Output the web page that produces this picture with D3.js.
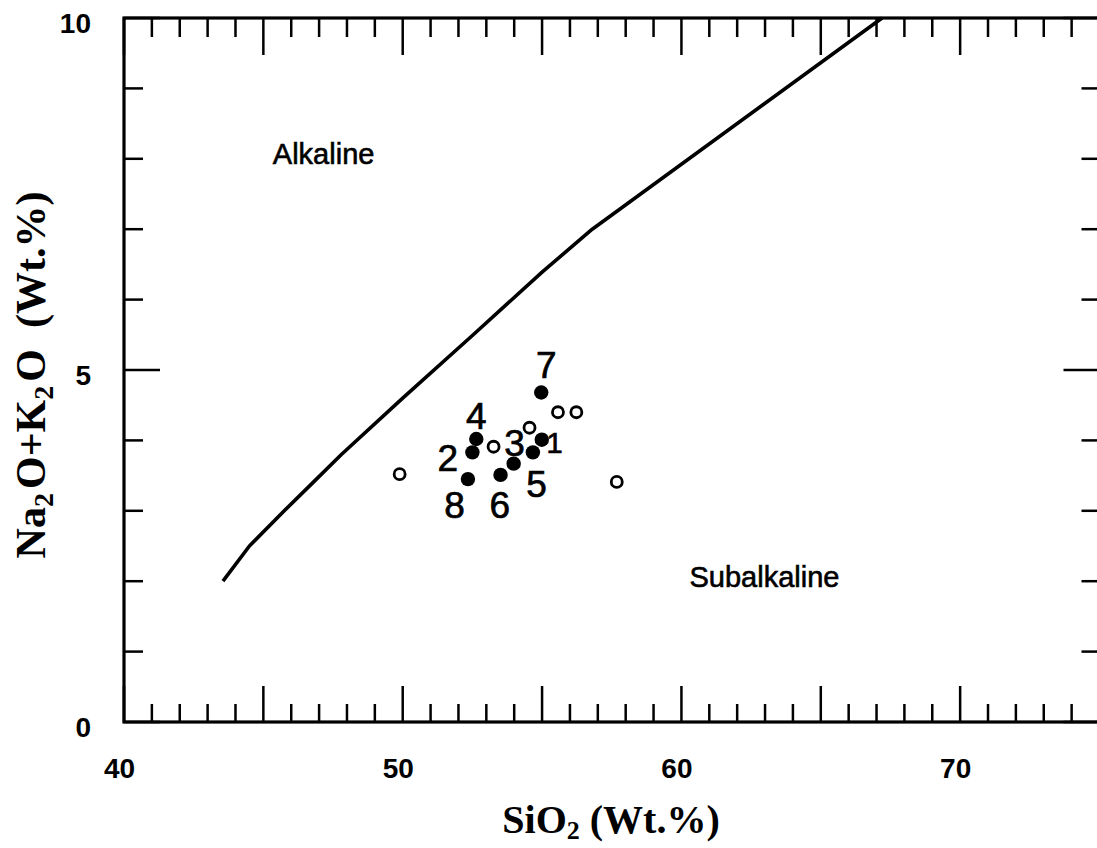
<!DOCTYPE html>
<html>
<head>
<meta charset="utf-8">
<script src="https://cdn.jsdelivr.net/npm/d3@7"></script>
<style>
  html, body { margin: 0; padding: 0; background: #fff; }
  svg { display: block; }
</style>
</head>
<body>
<svg id="chart" width="1097" height="848"></svg>
<script>
// ---- data ----
const xDomain = [40, 75];
const yDomain = [0, 10];
const xTickLabels = [40, 50, 60, 70];
const yTickLabels = [0, 5, 10];

// Alkaline / subalkaline boundary curve
const boundaryX = [43.55, 44.5, 45.75, 46.75, 47.8, 50.0, 52.5, 55.0, 56.8, 67.2];
const boundaryY = [2.0, 2.5, 3.0, 3.39, 3.80, 4.60, 5.49, 6.39, 7.0, 10.0];

// numbered samples (filled)
const sampleNames = ["1", "2", "3", "4", "5", "6", "7", "8"];
const sampleSiO2  = [54.99, 52.50, 53.98, 52.64, 54.67, 53.51, 54.97, 52.34];
const sampleAlk   = [4.01, 3.83, 3.67, 4.02, 3.83, 3.51, 4.68, 3.45];
// label anchors (data units)
const labelSiO2 = [55.45, 51.62, 54.01, 52.64, 54.80, 53.48, 55.15, 51.86];
const labelAlk  = [3.96, 3.75, 3.96, 4.34, 3.37, 3.08, 5.07, 3.08];

// other samples (open)
const openSiO2 = [55.57, 56.23, 54.55, 53.26, 57.68, 49.89];
const openAlk  = [4.40, 4.40, 4.18, 3.91, 3.41, 3.52];

// field names
const fieldNames = ["Alkaline", "Subalkaline"];
const fieldSiO2  = [45.34, 60.29];
const fieldAlk   = [7.93, 1.92];

// ---- drawing ----
(function () {
const svg = d3.select("#chart");
const pL = 124, pR = 1099.5, pT = 18, pB = 722;
const x = d3.scaleLinear().domain(xDomain).range([pL, pR]);
const y = d3.scaleLinear().domain(yDomain).range([pB, pT]);

const sans = "'Liberation Sans', Arial, sans-serif";
const serif = "'Liberation Serif', 'Times New Roman', serif";

const xMinor = d3.range(xDomain[0], xDomain[1] + 0.001, 1);
const yMinor = d3.range(yDomain[0], yDomain[1] + 0.001, 1);
const isMaj = v => Math.abs(v % 5) < 1e-6;

const ticks = svg.append("g").attr("stroke", "#000").attr("stroke-width", 2.5);
ticks.append("g").selectAll("line").data(xMinor).join("line")
  .attr("x1", d => x(d)).attr("x2", d => x(d))
  .attr("y1", pB).attr("y2", d => pB - (isMaj(d) ? 36 : 18));
ticks.append("g").selectAll("line").data(xMinor).join("line")
  .attr("x1", d => x(d)).attr("x2", d => x(d))
  .attr("y1", pT).attr("y2", d => pT + (isMaj(d) ? 37 : 19));
ticks.append("g").selectAll("line").data(yMinor).join("line")
  .attr("y1", d => y(d)).attr("y2", d => y(d))
  .attr("x1", pL).attr("x2", d => pL + (isMaj(d) ? 36 : 19));
ticks.append("g").selectAll("line").data(yMinor).join("line")
  .attr("y1", d => y(d)).attr("y2", d => y(d))
  .attr("x1", pR).attr("x2", d => pR - (isMaj(d) ? 36 : 18));

// frame
svg.append("rect")
  .attr("x", pL).attr("y", pT)
  .attr("width", pR - pL).attr("height", pB - pT)
  .attr("fill", "none").attr("stroke", "#000").attr("stroke-width", 3.2);

// tick labels
svg.append("g").selectAll("text").data(xTickLabels).join("text")
  .attr("x", d => x(d) - 4.5).attr("y", pB + 56)
  .attr("text-anchor", "middle")
  .attr("font-family", sans).attr("font-weight", "bold").attr("font-size", 28)
  .text(d => d);
svg.append("g").selectAll("text").data(yTickLabels).join("text")
  .attr("x", pL - 33).attr("y", d => y(d) + 15)
  .attr("text-anchor", "end")
  .attr("font-family", sans).attr("font-weight", "bold").attr("font-size", 28)
  .text(d => d);

// boundary line
const boundary = boundaryX.map((v, i) => [v, boundaryY[i]]);
svg.append("path")
  .datum(boundary)
  .attr("d", d3.line().x(d => x(d[0])).y(d => y(d[1])))
  .attr("fill", "none").attr("stroke", "#000").attr("stroke-width", 3.6)
  .attr("stroke-linejoin", "round");

// open circles
svg.append("g").selectAll("circle").data(openSiO2.map((v, i) => [v, openAlk[i]])).join("circle")
  .attr("cx", d => x(d[0])).attr("cy", d => y(d[1])).attr("r", 5.5)
  .attr("fill", "#fff").attr("stroke", "#000").attr("stroke-width", 2.8);

// filled circles
svg.append("g").selectAll("circle").data(sampleSiO2.map((v, i) => [v, sampleAlk[i]])).join("circle")
  .attr("cx", d => x(d[0])).attr("cy", d => y(d[1])).attr("r", 7.2)
  .attr("fill", "#000");

// sample labels
svg.append("g").selectAll("text").data(sampleNames).join("text")
  .attr("x", (d, i) => x(labelSiO2[i])).attr("y", (d, i) => y(labelAlk[i]))
  .attr("text-anchor", "middle").attr("dominant-baseline", "central")
  .attr("font-family", sans).attr("font-size", d => d === "1" ? 29 : 37)
  .attr("stroke", "#000").attr("stroke-width", 0.7)
  .text(d => d);

// field names
svg.append("g").selectAll("text").data(fieldNames).join("text")
  .attr("x", (d, i) => x(fieldSiO2[i])).attr("y", (d, i) => y(fieldAlk[i]))
  .attr("font-family", sans).attr("font-size", 29)
  .attr("stroke", "#000").attr("stroke-width", 0.6)
  .text(d => d);

// axis titles
const xt = svg.append("text")
  .attr("x", 611).attr("y", 833)
  .attr("text-anchor", "middle")
  .attr("font-family", serif).attr("font-weight", "bold").attr("font-size", 40);
xt.append("tspan").text("SiO");
xt.append("tspan").attr("font-size", 26).attr("dy", 6).text("2");
xt.append("tspan").attr("dy", -6).text("\u00a0(Wt.%)");

const yt = svg.append("text")
  .attr("transform", "translate(45,375) rotate(-90)")
  .attr("text-anchor", "middle")
  .attr("font-family", serif).attr("font-weight", "bold").attr("font-size", 42);
yt.append("tspan").text("Na");
yt.append("tspan").attr("font-size", 28).attr("dy", 8).text("2");
yt.append("tspan").attr("dy", -8).attr("dx", 4).text("O+K");
yt.append("tspan").attr("font-size", 28).attr("dy", 8).text("2");
yt.append("tspan").attr("dy", -8).attr("dx", 4).text("O\u00a0\u00a0(Wt.%)");
})();
</script>
</body>
</html>
